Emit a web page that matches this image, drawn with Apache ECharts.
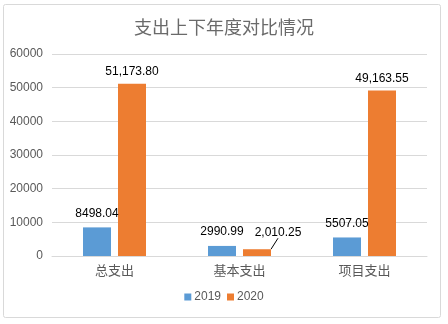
<!DOCTYPE html>
<html>
<head>
<meta charset="utf-8">
<script src="https://cdn.jsdelivr.net/npm/echarts@6/dist/echarts.min.js"></script>
<style>
  html, body { margin: 0; padding: 0; background: #fff; }
  #chart { width: 448px; height: 324px; }
</style>
</head>
<body>
<div id="chart"></div>
<script>
// Spending comparison by category, 2019 vs 2020
const categories = ['总支出', '基本支出', '项目支出'];
const values2019 = [8498.04, 2990.99, 5507.05];
const values2020 = [51173.80, 2010.25, 49163.55];
const yTicks = { min: 0, max: 60000, interval: 10000 };

const fmtPlain = v => v.toFixed(2);
const fmtGrouped = v => v.toLocaleString('en-US', { minimumFractionDigits: 2, maximumFractionDigits: 2 });

const chart = echarts.init(document.getElementById('chart'), null, { renderer: 'canvas' });
const labelFont = { color: '#000', fontSize: 12, fontFamily: 'Liberation Sans, Arial, sans-serif' };

// The small 2020 bar under 基本支出 gets its label pushed aside with a leader line
const calloutIndex = 1;
const data2020 = values2020.map((v, i) => i === calloutIndex
  ? { value: v, labelLine: { show: true, lineStyle: { color: '#000', width: 1 } } }
  : { value: v, labelLine: { show: false } });

chart.setOption({
  backgroundColor: '#fff',
  animation: false,
  graphic: [{
    type: 'rect',
    shape: { x: 3.5, y: 4.5, width: 437, height: 313, r: 2 },
    style: { fill: 'none', stroke: '#d9d9d9', lineWidth: 1 },
    silent: true
  }],
  title: {
    text: '支出上下年度对比情况',
    left: 'center',
    top: 13,
    textStyle: { color: '#6a6a6a', fontSize: 18, fontWeight: 'normal', fontFamily: 'Noto Sans CJK SC' }
  },
  legend: {
    bottom: 16,
    left: 'center',
    itemWidth: 7,
    itemHeight: 7,
    itemGap: 6,
    icon: 'rect',
    textStyle: { color: '#595959', fontSize: 12, padding: [0, 0, 0, -2], fontFamily: 'Liberation Sans, Arial, sans-serif' },
    data: ['2019', '2020']
  },
  grid: { left: 52, right: 21, top: 54, bottom: 68 },
  xAxis: {
    type: 'category',
    data: categories,
    axisLine: { lineStyle: { color: '#d9d9d9' } },
    axisTick: { show: false },
    axisLabel: { color: '#595959', fontSize: 13, margin: 8, fontFamily: 'Noto Sans CJK SC' }
  },
  yAxis: {
    type: 'value',
    min: yTicks.min,
    max: yTicks.max,
    interval: yTicks.interval,
    axisLine: { show: false },
    axisTick: { show: false },
    splitLine: { lineStyle: { color: '#d9d9d9' } },
    axisLabel: { color: '#595959', fontSize: 12, margin: 9, formatter: v => String(v), fontFamily: 'Liberation Sans, Arial, sans-serif' }
  },
  series: [
    {
      name: '2019',
      type: 'bar',
      data: values2019,
      barWidth: 28,
      barGap: '25%',
      itemStyle: { color: '#5b9bd5' },
      label: Object.assign({ show: true, position: 'top', distance: 8, formatter: p => fmtPlain(p.value) }, labelFont)
    },
    {
      name: '2020',
      type: 'bar',
      data: data2020,
      barWidth: 28,
      itemStyle: { color: '#ed7d31' },
      label: Object.assign({ show: true, position: 'top', distance: 6, formatter: p => fmtGrouped(p.value) }, labelFont),
      labelLayout: p => p.dataIndex === calloutIndex ? { dx: 21, dy: -5 } : {}
    }
  ]
});
</script>
</body>
</html>
